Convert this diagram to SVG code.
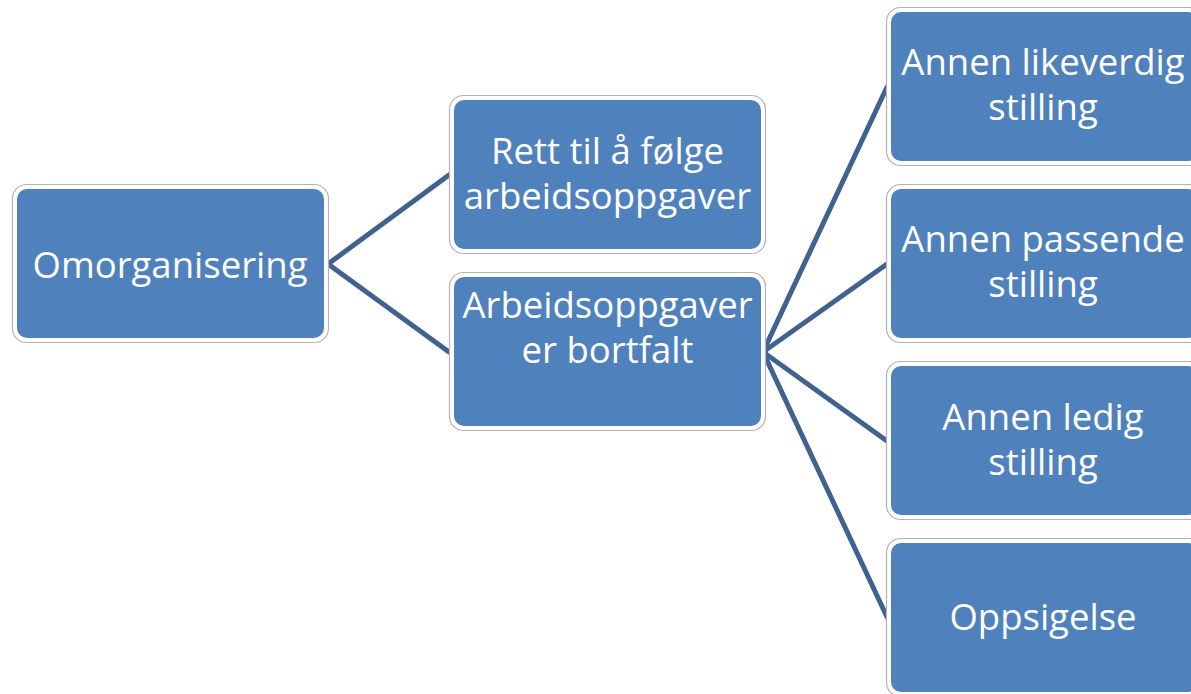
<svg xmlns="http://www.w3.org/2000/svg" width="1191" height="694" viewBox="0 0 1191 694">
  <style>
    .frame { fill: #ffffff; stroke: #b3b3b3; stroke-width: 1.2; }
    .box { fill: #4f81bd; }
    .label { fill: #ffffff; font-family: "Open Sans", "Noto Sans", "DejaVu Sans", sans-serif; font-size: 36.5px; text-anchor: middle; }
    .link { stroke: #41618f; stroke-width: 5; fill: none; stroke-linecap: round; }
  </style>
  <defs>
    <!-- shared node shape: white rim with a thin grey edge around a blue card -->
    <g id="card">
      <rect class="frame" x="-4.5" y="-4.5" width="316" height="158" rx="14"/>
      <rect class="box" x="0" y="0" width="307" height="149" rx="10"/>
    </g>
  </defs>
  <rect width="1191" height="694" fill="#ffffff"/>

  <g id="connectors">
    <line class="link" x1="328" y1="264" x2="449" y2="175"/>
    <line class="link" x1="328" y1="264" x2="449" y2="352"/>
    <line class="link" x1="763" y1="352" x2="887" y2="87"/>
    <line class="link" x1="763" y1="352" x2="887" y2="264"/>
    <line class="link" x1="763" y1="352" x2="887" y2="441"/>
    <line class="link" x1="763" y1="352" x2="887" y2="617"/>
  </g>

  <g id="omorganisering">
    <use href="#card" x="17" y="189"/>
    <text class="label" x="170" y="278">Omorganisering</text>
  </g>

  <g id="rett-til-aa-folge">
    <use href="#card" x="454" y="100"/>
    <text class="label" x="607.5" y="164">Rett til å følge</text>
    <text class="label" x="607.5" y="209">arbeidsoppgaver</text>
  </g>

  <g id="arbeidsoppgaver-bortfalt">
    <use href="#card" x="454" y="277"/>
    <text class="label" x="607.5" y="318">Arbeidsoppgaver</text>
    <text class="label" x="607.5" y="363">er bortfalt</text>
  </g>

  <g id="likeverdig-stilling">
    <use href="#card" x="891" y="12"/>
    <text class="label" x="1043" y="75">Annen likeverdig</text>
    <text class="label" x="1043" y="120">stilling</text>
  </g>

  <g id="passende-stilling">
    <use href="#card" x="891" y="189"/>
    <text class="label" x="1043" y="252">Annen passende</text>
    <text class="label" x="1043" y="297">stilling</text>
  </g>

  <g id="ledig-stilling">
    <use href="#card" x="891" y="366"/>
    <text class="label" x="1043" y="430">Annen ledig</text>
    <text class="label" x="1043" y="475">stilling</text>
  </g>

  <g id="oppsigelse">
    <use href="#card" x="891" y="543"/>
    <text class="label" x="1043" y="630">Oppsigelse</text>
  </g>
</svg>
